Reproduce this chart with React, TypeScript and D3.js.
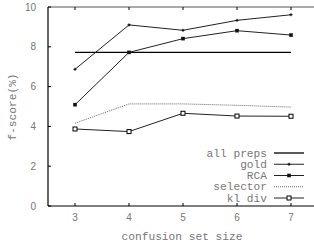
import { useEffect, useRef } from 'react';
import * as d3 from 'd3';

const sizes = [3, 4, 5, 6, 7];
const allPreps = [7.72, 7.72, 7.72, 7.72, 7.72];
const gold = [6.87, 9.1, 8.83, 9.33, 9.61];
const rca = [5.09, 7.72, 8.41, 8.81, 8.59];
const selector = [4.16, 5.13, 5.13, 5.06, 4.97];
const klDiv = [3.87, 3.74, 4.66, 4.52, 4.51];
const yTicks = [0, 2, 4, 6, 8, 10];
const legendLabels = ['all preps', 'gold', 'RCA', 'selector', 'kl div'];

const App = () => {
  const svgRef = useRef<SVGSVGElement | null>(null);

  useEffect(() => {
    const svg = d3.select(svgRef.current);
    svg.selectAll('*').remove();

    const width = 314;
    const mono = '"Liberation Mono", "Courier New", monospace';
    const sans = '"Liberation Sans", Arial, sans-serif';
    const textColor = '#777';

    // scales (x domain padded half a step, the right edge falls off the picture)
    const x = d3.scaleLinear().domain([2.5, 7.5]).range([48, 318]);
    const y = d3.scaleLinear().domain([0, 10]).range([206, 7]);

    // frame
    svg.append('line')
      .attr('x1', 48).attr('x2', 48).attr('y1', y(10)).attr('y2', y(0))
      .attr('stroke', '#000').attr('stroke-width', 1.2);
    svg.append('line')
      .attr('x1', 48).attr('x2', width).attr('y1', y(0)).attr('y2', y(0))
      .attr('stroke', '#000').attr('stroke-width', 1.2);
    svg.append('line')
      .attr('x1', 48).attr('x2', width).attr('y1', y(10)).attr('y2', y(10))
      .attr('stroke', '#555').attr('stroke-width', 1.2);

    // ticks (inward)
    yTicks.forEach(t => {
      svg.append('line')
        .attr('x1', 48).attr('x2', 51).attr('y1', y(t)).attr('y2', y(t))
        .attr('stroke', '#000');
      svg.append('text')
        .attr('x', 36).attr('y', y(t)).attr('dy', '0.35em')
        .attr('text-anchor', 'end')
        .attr('font-family', sans).attr('font-size', 10)
        .attr('fill', textColor)
        .text(t);
    });
    sizes.forEach(s => {
      svg.append('line')
        .attr('x1', x(s)).attr('x2', x(s)).attr('y1', y(0)).attr('y2', y(0) - 3)
        .attr('stroke', '#000');
      svg.append('line')
        .attr('x1', x(s)).attr('x2', x(s)).attr('y1', y(10)).attr('y2', y(10) + 3)
        .attr('stroke', '#000');
      svg.append('text')
        .attr('x', x(s)).attr('y', 221)
        .attr('text-anchor', 'middle')
        .attr('font-family', sans).attr('font-size', 10)
        .attr('fill', textColor)
        .text(s);
    });

    // axis titles
    svg.append('text')
      .attr('x', 182).attr('y', 240)
      .attr('text-anchor', 'middle')
      .attr('font-family', mono).attr('font-size', 11.2)
      .attr('fill', textColor)
      .text('confusion set size');
    svg.append('text')
      .attr('transform', 'translate(16,107) rotate(-90)')
      .attr('text-anchor', 'middle')
      .attr('font-family', mono).attr('font-size', 11.2)
      .attr('fill', textColor)
      .text('f-score(%)');

    const line = d3.line<number>()
      .x((_, i) => x(sizes[i]))
      .y(d => y(d));

    const series = [
      { values: allPreps, dash: null, color: '#000', width: 1.3, marker: 'none' },
      { values: gold, dash: null, color: '#222', width: 1, marker: 'plus' },
      { values: rca, dash: null, color: '#222', width: 1, marker: 'filled' },
      { values: selector, dash: '1,1', color: '#666', width: 1, marker: 'none' },
      { values: klDiv, dash: null, color: '#222', width: 1, marker: 'open' },
    ];

    const drawMarker = (kind: string, cx: number, cy: number) => {
      if (kind === 'plus') {
        svg.append('path')
          .attr('d', `M${cx - 1.5},${cy}H${cx + 1.5}M${cx},${cy - 1.5}V${cy + 1.5}`)
          .attr('stroke', '#000').attr('stroke-width', 1);
      } else if (kind === 'filled') {
        svg.append('rect')
          .attr('x', cx - 1.8).attr('y', cy - 1.8).attr('width', 3.6).attr('height', 3.6)
          .attr('fill', '#111');
      } else if (kind === 'open') {
        svg.append('rect')
          .attr('x', cx - 2).attr('y', cy - 2).attr('width', 4).attr('height', 4)
          .attr('fill', '#fff').attr('stroke', '#000').attr('stroke-width', 1);
      }
    };

    series.forEach(s => {
      const p = svg.append('path')
        .attr('d', line(s.values))
        .attr('fill', 'none')
        .attr('stroke', s.color)
        .attr('stroke-width', s.width);
      if (s.dash) p.attr('stroke-dasharray', s.dash);
      s.values.forEach((v, i) => drawMarker(s.marker, x(sizes[i]), y(v)));
    });

    // legend
    const legendY = d3.scaleLinear().domain([0, 4]).range([153, 198]);
    series.forEach((s, i) => {
      const ly = legendY(i);
      svg.append('text')
        .attr('x', 267).attr('y', ly).attr('dy', '0.32em')
        .attr('text-anchor', 'end')
        .attr('font-family', mono).attr('font-size', 11.2)
        .attr('fill', textColor)
        .text(legendLabels[i]);
      const l = svg.append('line')
        .attr('x1', 274).attr('x2', 304).attr('y1', ly).attr('y2', ly)
        .attr('stroke', s.color).attr('stroke-width', s.width);
      if (s.dash) l.attr('stroke-dasharray', s.dash);
      drawMarker(s.marker, 289, ly);
    });
  }, []);

  return (
    <svg
      ref={svgRef}
      width={314}
      height={245}
      style={{ position: 'absolute', left: 0, top: 0, background: '#fff' }}
    />
  );
};

export default App;
